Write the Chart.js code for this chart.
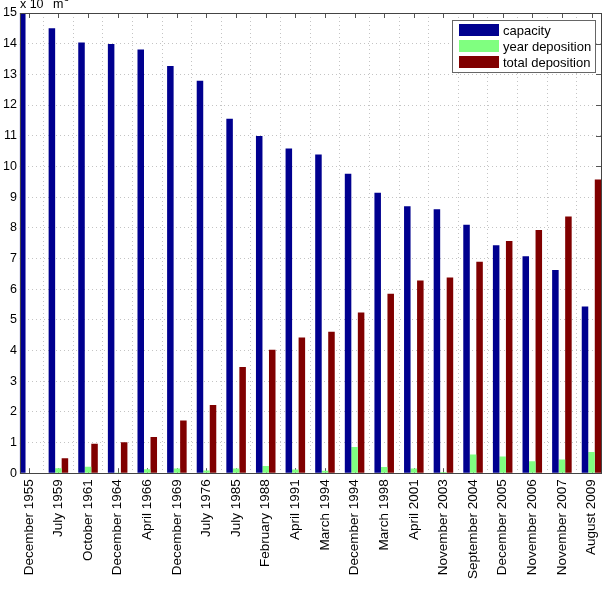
<!DOCTYPE html>
<html>
<head>
<meta charset="utf-8">
<script src="https://cdn.jsdelivr.net/npm/chart.js@4"></script>
<style>
    html, body { margin: 0; padding: 0; background: #fff; }
    #wrap { position: relative; width: 604px; height: 596px; }
</style>
</head>
<body>
<div id="wrap"><canvas id="chart"></canvas></div>
<script>
// Survey dates (x categories)
const surveyDates = [
    'December 1955', 'July 1959', 'October 1961', 'December 1964', 'April 1966',
    'December 1969', 'July 1976', 'July 1985', 'February 1988', 'April 1991',
    'March 1994', 'December 1994', 'March 1998', 'April 2001', 'November 2003',
    'September 2004', 'December 2005', 'November 2006', 'November 2007', 'August 2009'
];

// Values in units of the axis multiplier
const capacity = [15.0, 14.5, 14.04, 13.99, 13.81, 13.27, 12.79, 11.55, 10.99, 10.58,
    10.39, 9.76, 9.14, 8.70, 8.60, 8.10, 7.43, 7.07, 6.62, 5.43];
const yearDeposition = [0, 0.16, 0.21, 0.02, 0.13, 0.15, 0.09, 0.15, 0.23, 0.12,
    0.08, 0.85, 0.2, 0.15, 0.04, 0.61, 0.54, 0.39, 0.45, 0.69];
const totalDeposition = [0, 0.49, 0.96, 1.01, 1.18, 1.72, 2.22, 3.46, 4.02, 4.42,
    4.61, 5.24, 5.85, 6.28, 6.38, 6.89, 7.57, 7.93, 8.37, 9.57];

const yTicks = [0, 1, 2, 3, 4, 5, 6, 7, 8, 9, 10, 11, 12, 13, 14, 15];

const FONT = '"Liberation Sans", Arial, Helvetica, sans-serif';

function toPoints(values) {
    return values.map((v, i) => ({ x: i, y: v }));
}

// MATLAB look: inward ticks under the bars, box, unit label and legend on top
const matlabDecor = {
    id: 'matlabDecor',
    beforeDatasetsDraw(chart) {
        const { ctx, chartArea: a, scales } = chart;
        ctx.save();
        ctx.strokeStyle = '#555';
        ctx.lineWidth = 1;
        ctx.beginPath();
        scales.x.ticks.forEach(t => {
            const px = Math.round(scales.x.getPixelForValue(t.value)) + 0.5;
            ctx.moveTo(px, a.bottom); ctx.lineTo(px, a.bottom - 5);
            ctx.moveTo(px, a.top); ctx.lineTo(px, a.top + 5);
        });
        scales.y.ticks.forEach(t => {
            const py = Math.round(scales.y.getPixelForValue(t.value)) + 0.5;
            ctx.moveTo(a.left, py); ctx.lineTo(a.left + 5, py);
            ctx.moveTo(a.right, py); ctx.lineTo(a.right - 5, py);
        });
        ctx.stroke();
        ctx.restore();
    },
    afterDraw(chart) {
        const { ctx, chartArea: a } = chart;
        ctx.save();

        // axes box
        ctx.strokeStyle = '#444';
        ctx.lineWidth = 1;
        ctx.strokeRect(Math.round(a.left) + 0.5, Math.round(a.top) + 0.5,
            Math.round(a.right - a.left), Math.round(a.bottom - a.top));

        // unit label above the y axis
        ctx.fillStyle = '#000';
        ctx.textBaseline = 'alphabetic';
        ctx.font = '12.5px ' + FONT;
        ctx.fillText('x 10', a.left, 8);
        ctx.fillText('m', a.left + 33, 8);
        ctx.font = '9px ' + FONT;
        ctx.fillText('3', a.left + 44, 1);

        // legend
        const bx = a.right - 149, by = a.top + 7, bw = 143, bh = 52;
        ctx.fillStyle = '#fff';
        ctx.fillRect(bx, by, bw, bh);
        ctx.strokeStyle = '#666';
        ctx.strokeRect(bx + 0.5, by + 0.5, bw, bh);
        ctx.font = '13px ' + FONT;
        ctx.textBaseline = 'middle';
        chart.data.datasets.forEach((ds, i) => {
            const cy = by + 10 + i * 16;
            ctx.fillStyle = ds.backgroundColor;
            ctx.fillRect(bx + 7, cy - 6, 40, 12);
            ctx.fillStyle = '#000';
            ctx.fillText(ds.label, bx + 51, cy + 1);
        });

        ctx.restore();
    }
};

const gridStyle = { color: '#c4c4c4', lineWidth: 1, drawTicks: false };

new Chart(document.getElementById('chart'), {
    type: 'bar',
    data: {
        datasets: [
            {
                label: 'capacity',
                data: toPoints(capacity),
                backgroundColor: '#00008f',
                borderWidth: 0
            },
            {
                label: 'year deposition',
                data: toPoints(yearDeposition),
                backgroundColor: '#80ff80',
                borderWidth: 0
            },
            {
                label: 'total deposition',
                data: toPoints(totalDeposition),
                backgroundColor: '#800000',
                borderWidth: 0
            }
        ]
    },
    options: {
        responsive: true,
        maintainAspectRatio: false,
        animation: false,
        categoryPercentage: 0.66,
        barPercentage: 1.0,
        layout: { padding: { top: 13, left: 0, right: 3, bottom: 11 } },
        plugins: {
            legend: { display: false },
            tooltip: { enabled: false }
        },
        scales: {
            x: {
                type: 'linear',
                min: -0.3,
                max: 19.32,
                offset: false,
                grid: gridStyle,
                border: { display: false, dash: [1, 3] },
                afterBuildTicks: axis => {
                    axis.ticks = surveyDates.map((_, i) => ({ value: i }));
                },
                afterFit: axis => {
                    axis.paddingLeft = 0;
                    axis.paddingRight = 0;
                },
                ticks: {
                    autoSkip: false,
                    minRotation: 90,
                    maxRotation: 90,
                    padding: 6,
                    color: '#000',
                    font: { family: FONT, size: 13.5 },
                    callback: value => surveyDates[value]
                }
            },
            y: {
                min: 0,
                max: 15,
                grid: gridStyle,
                border: { display: false, dash: [1, 3] },
                afterBuildTicks: axis => {
                    axis.ticks = yTicks.map(v => ({ value: v }));
                },
                ticks: {
                    padding: 3,
                    color: '#000',
                    font: { family: FONT, size: 12.5 }
                }
            }
        }
    },
    plugins: [matlabDecor]
});
</script>
</body>
</html>
